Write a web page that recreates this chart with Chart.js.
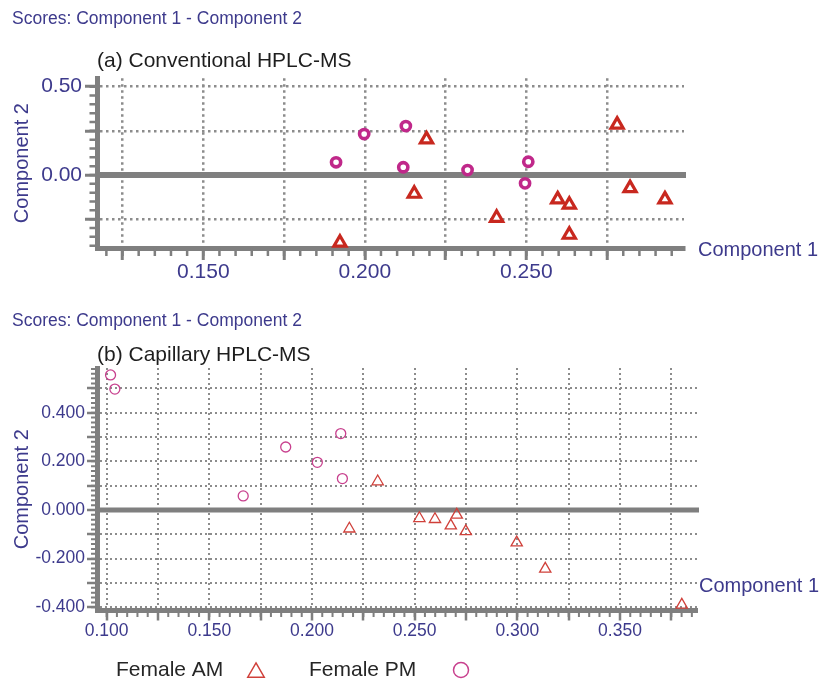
<!DOCTYPE html>
<html>
<head>
<meta charset="utf-8">
<title>Scores: Component 1 - Component 2</title>
<script src="https://cdn.jsdelivr.net/npm/chart.js@4.4.1/dist/chart.umd.min.js"></script>
<style>
  html, body { margin: 0; padding: 0; background: #fff; }
  .panel { position: absolute; left: 0; width: 825px; }
  #panelA { top: 0; height: 290px; }
  #panelB { top: 290px; height: 390px; }
</style>
</head>
<body>
<div class="panel" id="panelA"><canvas id="chartA"></canvas></div>
<div class="panel" id="panelB"><canvas id="chartB"></canvas></div>
<script>
/*
  PCA score plots, conventional vs capillary HPLC-MS
*/

/**************** Data *************************/

const seriesNames = ['Female AM', 'Female PM'];

// (a) conventional HPLC-MS
const convAmX = [0.1923, 0.2153, 0.2191, 0.2408, 0.2597, 0.2633, 0.2633, 0.2781, 0.2821, 0.2929];
const convAmY = [-0.383, -0.106, 0.202, -0.242, -0.138, -0.168, -0.338, 0.285, -0.074, -0.138];
const convPmX = [0.1911, 0.1998, 0.2127, 0.2119, 0.2318, 0.2506, 0.2496];
const convPmY = [0.072, 0.232, 0.277, 0.044, 0.028, 0.075, -0.047];

// (b) capillary HPLC-MS
const capAmX = [0.2320, 0.2182, 0.2523, 0.2599, 0.2676, 0.2705, 0.2749, 0.2997, 0.3136, 0.3801];
const capAmY = [0.117, -0.077, -0.034, -0.038, -0.064, -0.020, -0.088, -0.134, -0.242, -0.390];
const capPmX = [0.1019, 0.1040, 0.1872, 0.2140, 0.2026, 0.2148, 0.1665];
const capPmY = [0.555, 0.497, 0.259, 0.314, 0.196, 0.129, 0.058];

// tick labels that are printed (other ticks stay blank)
const convXTickLabels = ['0.150', '0.200', '0.250'];
const convYTickLabels = ['0.50', '0.00'];
const capXTickLabels = ['0.100', '0.150', '0.200', '0.250', '0.300', '0.350'];
const capYTickLabels = ['0.400', '0.200', '0.000', '-0.200', '-0.400'];


/**************** Styles *************************/

const FONT = '"Liberation Sans", Arial, Helvetica, sans-serif';
const AXIS_GRAY = '#7f7f7f';
const GRID_GRAY = '#8c8c8c';
const LABEL_BLUE = '#3d3a8c';

Chart.defaults.font.family = FONT;
Chart.defaults.color = LABEL_BLUE;

const toPoints = (xs, ys) => xs.map((x, i) => ({x: x, y: ys[i]}));

function tickText(value, digits, shown) {
    const v = Math.abs(value) < 1e-9 ? 0 : value;
    const txt = v.toFixed(digits);
    return shown.includes(txt) ? txt : '';
}


/**************** Plugins *************************/

// short unlabeled ticks between the major ones
const minorTicks = {
    id: 'minorTicks',
    beforeDatasetsDraw(chart, args, opts) {
        const {ctx, chartArea} = chart;
        const xs = chart.scales.x;
        const ys = chart.scales.y;
        ctx.save();
        ctx.strokeStyle = opts.color;
        ctx.lineWidth = opts.width;
        ctx.beginPath();
        for (let i = Math.ceil(xs.min / opts.xStep - 1e-6); i * opts.xStep <= xs.max + 1e-9; i++) {
            const px = xs.getPixelForValue(i * opts.xStep);
            ctx.moveTo(px, chartArea.bottom);
            ctx.lineTo(px, chartArea.bottom + opts.xLength);
        }
        for (let i = Math.ceil(ys.min / opts.yStep - 1e-6); i * opts.yStep <= ys.max + 1e-9; i++) {
            const py = ys.getPixelForValue(i * opts.yStep);
            ctx.moveTo(chartArea.left - opts.yLength, py);
            ctx.lineTo(chartArea.left, py);
        }
        ctx.stroke();
        ctx.restore();
    }
};

// thick line at component 2 = 0
const zeroLine = {
    id: 'zeroLine',
    beforeDatasetsDraw(chart, args, opts) {
        const {ctx, chartArea} = chart;
        const py = chart.scales.y.getPixelForValue(0);
        ctx.save();
        ctx.strokeStyle = opts.color;
        ctx.lineWidth = opts.width;
        ctx.beginPath();
        ctx.moveTo(chartArea.left, py);
        ctx.lineTo(chartArea.right + 2, py);
        ctx.stroke();
        ctx.restore();
    }
};

// "Component 1" sits at the right end of the x axis
const axisEndLabel = {
    id: 'axisEndLabel',
    afterDraw(chart, args, opts) {
        const {ctx, chartArea} = chart;
        ctx.save();
        ctx.font = opts.size + 'px ' + FONT;
        ctx.fillStyle = opts.color;
        ctx.textAlign = 'left';
        ctx.textBaseline = 'middle';
        ctx.fillText(opts.text, chartArea.right + opts.dx, chartArea.bottom + opts.dy);
        ctx.restore();
    }
};

// legend with the marker after the text
const markerLegend = {
    id: 'markerLegend',
    afterDraw(chart, args, opts) {
        const ctx = chart.ctx;
        ctx.save();
        ctx.font = opts.size + 'px ' + FONT;
        ctx.textAlign = 'left';
        ctx.textBaseline = 'middle';
        chart.data.datasets.forEach((ds, i) => {
            ctx.fillStyle = opts.color;
            ctx.fillText(ds.label, opts.textX[i], opts.y);
            const tri = ds.pointStyle === 'triangle';
            const r = tri ? opts.triangleRadius : opts.circleRadius;
            ctx.strokeStyle = ds.borderColor;
            ctx.fillStyle = 'rgba(255,255,255,0)';
            ctx.lineWidth = opts.lineWidth;
            Chart.helpers.drawPoint(ctx, {
                pointStyle: ds.pointStyle, radius: r, borderWidth: opts.lineWidth, rotation: 0
            }, opts.markerX[i], opts.y + (tri ? r / 4 : 0));
        });
        ctx.restore();
    }
};


/**************** Scales *************************/

function makeScales(cfg) {
    return {
        x: {
            type: 'linear',
            position: 'bottom',
            min: cfg.xMin,
            max: cfg.xMax,
            afterFit: s => { s.height = cfg.xHeight; },
            border: { display: true, color: AXIS_GRAY, width: 5, dash: cfg.dash },
            grid: {
                color: GRID_GRAY, lineWidth: cfg.gridWidth,
                tickColor: AXIS_GRAY, tickWidth: cfg.tickWidth, tickLength: cfg.xTickLength,
                tickBorderDash: []
            },
            ticks: {
                stepSize: 0.025, includeBounds: false, autoSkip: false,
                maxRotation: 0, minRotation: 0, padding: 0,
                color: LABEL_BLUE, font: { size: cfg.tickFont },
                callback: v => tickText(v, 3, cfg.xLabels)
            }
        },
        y: {
            type: 'linear',
            position: 'left',
            min: cfg.yMin,
            max: cfg.yMax,
            afterFit: s => { s.width = 85; },
            border: { display: true, color: AXIS_GRAY, width: 5, dash: cfg.dash },
            grid: {
                color: GRID_GRAY, lineWidth: cfg.gridWidth,
                tickColor: AXIS_GRAY, tickWidth: cfg.tickWidth, tickLength: cfg.yTickLength,
                tickBorderDash: []
            },
            ticks: {
                stepSize: cfg.yStep, includeBounds: false, autoSkip: false, padding: cfg.yPad,
                color: LABEL_BLUE, font: { size: cfg.tickFont },
                callback: v => tickText(v, cfg.yDigits, cfg.yLabels)
            },
            title: {
                display: true, text: 'Component 2', color: LABEL_BLUE,
                font: { size: 20 }, padding: { top: -2, bottom: 0 }
            }
        }
    };
}


/**************** Chart (a) *************************/

new Chart(document.getElementById('chartA'), {
    type: 'scatter',
    data: {
        datasets: [{
            label: seriesNames[0],
            data: toPoints(convAmX, convAmY),
            pointStyle: 'triangle',
            pointRadius: 7,
            borderWidth: 3.2,
            borderColor: '#c8281f',
            backgroundColor: '#ffffff',
            clip: false
        }, {
            label: seriesNames[1],
            data: toPoints(convPmX, convPmY),
            pointStyle: 'circle',
            pointRadius: 4.6,
            borderWidth: 3.6,
            borderColor: '#c0288a',
            backgroundColor: '#ffffff',
            clip: false
        }]
    },
    options: {
        responsive: true,
        maintainAspectRatio: false,
        animation: false,
        events: [],
        layout: { padding: { left: 12, right: 141, top: 0, bottom: 0 } },
        scales: makeScales({
            xMin: 0.1171, xMax: 0.2988, yMin: -0.413, yMax: 0.548,
            xHeight: 42, yStep: 0.25, yDigits: 2, yPad: 3,
            xLabels: convXTickLabels, yLabels: convYTickLabels,
            dash: [2.5, 3.5], gridWidth: 2.5, tickWidth: 3,
            xTickLength: 12, yTickLength: 12, tickFont: 21
        }),
        plugins: {
            legend: { display: false },
            tooltip: { enabled: false },
            title: {
                display: true, align: 'start',
                text: 'Scores: Component 1 - Component 2',
                color: LABEL_BLUE, font: { size: 17.5, weight: 'normal' },
                padding: { top: 9, bottom: 0 }
            },
            subtitle: {
                display: true, align: 'start', fullSize: false,
                text: '(a) Conventional HPLC-MS',
                color: '#1e1e1e', font: { size: 21, weight: 'normal' },
                padding: { top: 19, bottom: 4 }
            },
            minorTicks: { color: AXIS_GRAY, width: 2.5, xStep: 0.005, yStep: 0.05, xLength: 8, yLength: 7.5 },
            zeroLine: { color: AXIS_GRAY, width: 6 },
            axisEndLabel: { text: 'Component 1', size: 20, color: LABEL_BLUE, dx: 14, dy: 2 }
        }
    },
    plugins: [minorTicks, zeroLine, axisEndLabel]
});


/**************** Chart (b) *************************/

new Chart(document.getElementById('chartB'), {
    type: 'scatter',
    data: {
        datasets: [{
            label: seriesNames[0],
            data: toPoints(capAmX, capAmY),
            pointStyle: 'triangle',
            pointRadius: 6.5,
            borderWidth: 1.3,
            borderColor: '#d0403a',
            backgroundColor: 'rgba(255,255,255,0)',
            clip: false
        }, {
            label: seriesNames[1],
            data: toPoints(capPmX, capPmY),
            pointStyle: 'circle',
            pointRadius: 5,
            borderWidth: 1.3,
            borderColor: '#c8408e',
            backgroundColor: 'rgba(255,255,255,0)',
            clip: false
        }]
    },
    options: {
        responsive: true,
        maintainAspectRatio: false,
        animation: false,
        events: [],
        layout: { padding: { left: 12, right: 128, top: 0, bottom: 29.5 } },
        scales: makeScales({
            xMin: 0.0953, xMax: 0.3875, yMin: -0.413, yMax: 0.5836,
            xHeight: 40, yStep: 0.1, yDigits: 3, yPad: 2,
            xLabels: capXTickLabels, yLabels: capYTickLabels,
            dash: [2, 3], gridWidth: 2, tickWidth: 2.5,
            xTickLength: 10, yTickLength: 10, tickFont: 17.5
        }),
        plugins: {
            legend: { display: false },
            tooltip: { enabled: false },
            title: {
                display: true, align: 'start',
                text: 'Scores: Component 1 - Component 2',
                color: LABEL_BLUE, font: { size: 17.5, weight: 'normal' },
                padding: { top: 20.2, bottom: 0 }
            },
            subtitle: {
                display: true, align: 'start', fullSize: false,
                text: '(b) Capillary HPLC-MS',
                color: '#1e1e1e', font: { size: 21, weight: 'normal' },
                padding: { top: 11.2, bottom: 0.4 }
            },
            minorTicks: { color: AXIS_GRAY, width: 2, xStep: 0.005, yStep: 0.02, xLength: 6.5, yLength: 6 },
            zeroLine: { color: AXIS_GRAY, width: 5 },
            axisEndLabel: { text: 'Component 1', size: 20, color: LABEL_BLUE, dx: 2, dy: -24 },
            markerLegend: {
                size: 21, color: '#262626', y: 380,
                textX: [116, 309], markerX: [256, 461],
                triangleRadius: 9.5, circleRadius: 7.5, lineWidth: 1.5
            }
        }
    },
    plugins: [minorTicks, zeroLine, axisEndLabel, markerLegend]
});
</script>
</body>
</html>
